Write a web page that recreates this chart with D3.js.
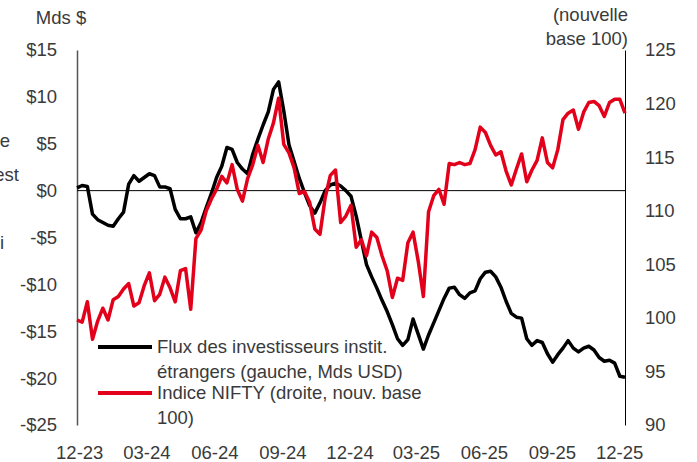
<!doctype html>
<html lang="fr">
<head>
<meta charset="utf-8">
<title>Flux FII et indice NIFTY</title>
<script src="https://cdn.jsdelivr.net/npm/d3@7"></script>
<style>
	body { margin: 0; background: #fff; }
	svg text { font-family: "Liberation Sans", Arial, sans-serif; fill: #3a3a3a; }
</style>
</head>
<body>
<svg id="chart" width="697" height="462"></svg>
<script>

// weekly points, first one on 28 Nov 2023
var startDate = new Date(2023, 10, 28);
var endDate = new Date(2025, 11, 9);

// flux des investisseurs institutionnels étrangers, Mds USD (axe gauche)
var fluxFII = [
	0.3, 0.55, 0.45, -2.5, -3.1, -3.4, -3.7, -3.8, -3.0, -2.3,
	0.7, 1.6, 1.0, 1.4, 1.8, 1.6, 0.4, 0.4, 0.2, -2.0,
	-3.0, -3.0, -2.8, -4.5, -3.4, -1.8, -0.3, 1.4, 2.6, 4.6,
	4.4, 3.0, 2.3, 1.8, 3.9, 5.5, 7.0, 8.4, 10.8, 11.6,
	8.5, 4.9, 3.1, 1.3, -0.2, -1.6, -2.4, -1.3, 0.0, 0.6,
	0.8, 0.5, 0.0, -0.6, -2.7, -5.3, -7.9, -9.2, -10.4, -11.7,
	-12.9, -14.3, -15.8, -16.5, -15.9, -13.7, -15.3, -16.9, -15.4, -14.1,
	-12.8, -11.5, -10.4, -10.3, -11.1, -11.5, -10.9, -10.7, -9.4, -8.7,
	-8.6, -9.2, -10.3, -11.8, -13.1, -13.5, -13.6, -15.8, -16.5, -16.0,
	-16.2, -17.4, -18.3, -17.5, -16.8, -16.0, -16.8, -17.2, -16.8, -16.6,
	-17.0, -17.8, -18.2, -18.1, -18.4, -19.8, -19.9
];

// indice NIFTY, nouvelle base 100 (axe droit)
var nifty = [
	99.8, 99.6, 101.5, 98.0, 99.7, 100.9, 99.8, 101.7, 102.0, 102.7,
	103.2, 101.1, 101.4, 103.0, 104.2, 101.6, 102.2, 103.8, 102.8, 101.5,
	104.4, 104.6, 100.8, 107.4, 108.2, 110.0, 111.1, 112.0, 113.2, 112.6,
	114.3, 112.0, 110.9, 113.0, 114.3, 116.1, 114.5, 116.7, 118.2, 120.5,
	116.2, 115.4, 114.0, 111.6, 111.8, 110.8, 108.3, 107.8, 111.2, 113.3,
	113.8, 108.9, 109.5, 110.5, 106.6, 107.3, 105.8, 108.0, 107.5, 105.8,
	104.4, 101.9, 103.7, 103.5, 107.0, 108.0, 105.3, 102.0, 109.9, 111.4,
	112.0, 110.6, 114.4, 114.3, 114.5, 114.3, 114.4, 115.7, 117.8, 117.3,
	116.1, 115.2, 115.5, 113.7, 112.4, 113.9, 115.3, 112.7, 113.8, 114.7,
	116.8, 114.5, 114.0, 115.7, 118.5, 119.1, 119.4, 117.6, 119.2, 120.1,
	120.2, 119.8, 118.8, 120.1, 120.4, 120.4, 119.1
];

var leftTicks = [-25, -20, -15, -10, -5, 0, 5, 10, 15];
var rightTicks = [90, 95, 100, 105, 110, 115, 120, 125];
var monthTicks = ["2023-12", "2024-03", "2024-06", "2024-09", "2024-12",
	"2025-03", "2025-06", "2025-09", "2025-12"];

var parseMonth = d3.timeParse("%Y-%m");
var dates = fluxFII.map(function(d, i) { return d3.timeDay.offset(startDate, 7 * i); });
var fontSize = 18.5;

var svg = d3.select("#chart");

var x = d3.scaleTime().domain([startDate, endDate]).range([77, 625]);
var yLeft = d3.scaleLinear().domain([-25, 15]).range([425, 50]);
var yRight = d3.scaleLinear().domain([90, 125]).range([425, 50]);

// axes
var gLeft = svg.append("g").attr("transform", "translate(77,0)")
	.call(d3.axisLeft(yLeft).tickValues(leftTicks).tickSize(0).tickPadding(20)
		.tickFormat(function(d) { return (d < 0 ? "-" : "") + "$" + Math.abs(d); }));
gLeft.select(".domain").attr("stroke", "#555").attr("stroke-width", 1.5);

var gRight = svg.append("g").attr("transform", "translate(625,0)")
	.call(d3.axisRight(yRight).tickValues(rightTicks).tickSize(0).tickPadding(20));
gRight.select(".domain").attr("stroke", "#000").attr("stroke-width", 1);

var gX = svg.append("g").attr("transform", "translate(0,425)")
	.call(d3.axisBottom(x).tickValues(monthTicks.map(parseMonth)).tickSize(0).tickPadding(21)
		.tickFormat(d3.timeFormat("%m-%y")));
gX.select(".domain").remove();

svg.selectAll(".tick text").attr("font-size", fontSize).attr("fill", "#3a3a3a")
	.attr("font-family", "\"Liberation Sans\", Arial, sans-serif");

// zero line
svg.append("line")
	.attr("x1", 77).attr("x2", 625)
	.attr("y1", yLeft(0)).attr("y2", yLeft(0))
	.attr("stroke", "#000").attr("stroke-width", 1);

// series
var lineLeft = d3.line()
	.x(function(d, i) { return x(dates[i]); })
	.y(function(d) { return yLeft(d); });
var lineRight = d3.line()
	.x(function(d, i) { return x(dates[i]); })
	.y(function(d) { return yRight(d); });

svg.append("path").datum(fluxFII)
	.attr("d", lineLeft)
	.attr("fill", "none").attr("stroke", "#000")
	.attr("stroke-width", 3.5).attr("stroke-linejoin", "round");

svg.append("path").datum(nifty)
	.attr("d", lineRight)
	.attr("fill", "none").attr("stroke", "#e2001a")
	.attr("stroke-width", 3.5).attr("stroke-linejoin", "round");

// titles
svg.append("text").attr("x", 61).attr("y", 18).attr("dy", "0.35em")
	.attr("text-anchor", "middle").attr("font-size", fontSize).text("Mds $");
svg.append("text").attr("x", 628).attr("y", 15).attr("dy", "0.35em")
	.attr("text-anchor", "end").attr("font-size", fontSize).text("(nouvelle");
svg.append("text").attr("x", 628).attr("y", 39).attr("dy", "0.35em")
	.attr("text-anchor", "end").attr("font-size", fontSize).text("base 100)");

// bits of text cut by the left edge
svg.append("text").attr("x", 10).attr("y", 141).attr("dy", "0.35em")
	.attr("text-anchor", "end").attr("font-size", fontSize).text("e");
svg.append("text").attr("x", 19).attr("y", 175).attr("dy", "0.35em")
	.attr("text-anchor", "end").attr("font-size", fontSize).text("est");
svg.append("text").attr("x", 4).attr("y", 243).attr("dy", "0.35em")
	.attr("text-anchor", "end").attr("font-size", fontSize).text("i");

// legend
var legend = [
	{ color: "#000", y: 347, lines: ["Flux des investisseurs instit.", "étrangers (gauche, Mds USD)"] },
	{ color: "#e2001a", y: 393, lines: ["Indice NIFTY (droite, nouv. base", "100)"] }
];
legend.forEach(function(l) {
	svg.append("line")
		.attr("x1", 98).attr("x2", 152).attr("y1", l.y).attr("y2", l.y)
		.attr("stroke", l.color).attr("stroke-width", 4);
	l.lines.forEach(function(t, j) {
		svg.append("text").attr("x", 157).attr("y", l.y + j * 24.5).attr("dy", "0.35em")
			.attr("font-size", fontSize).text(t);
	});
});

</script>
</body>
</html>
